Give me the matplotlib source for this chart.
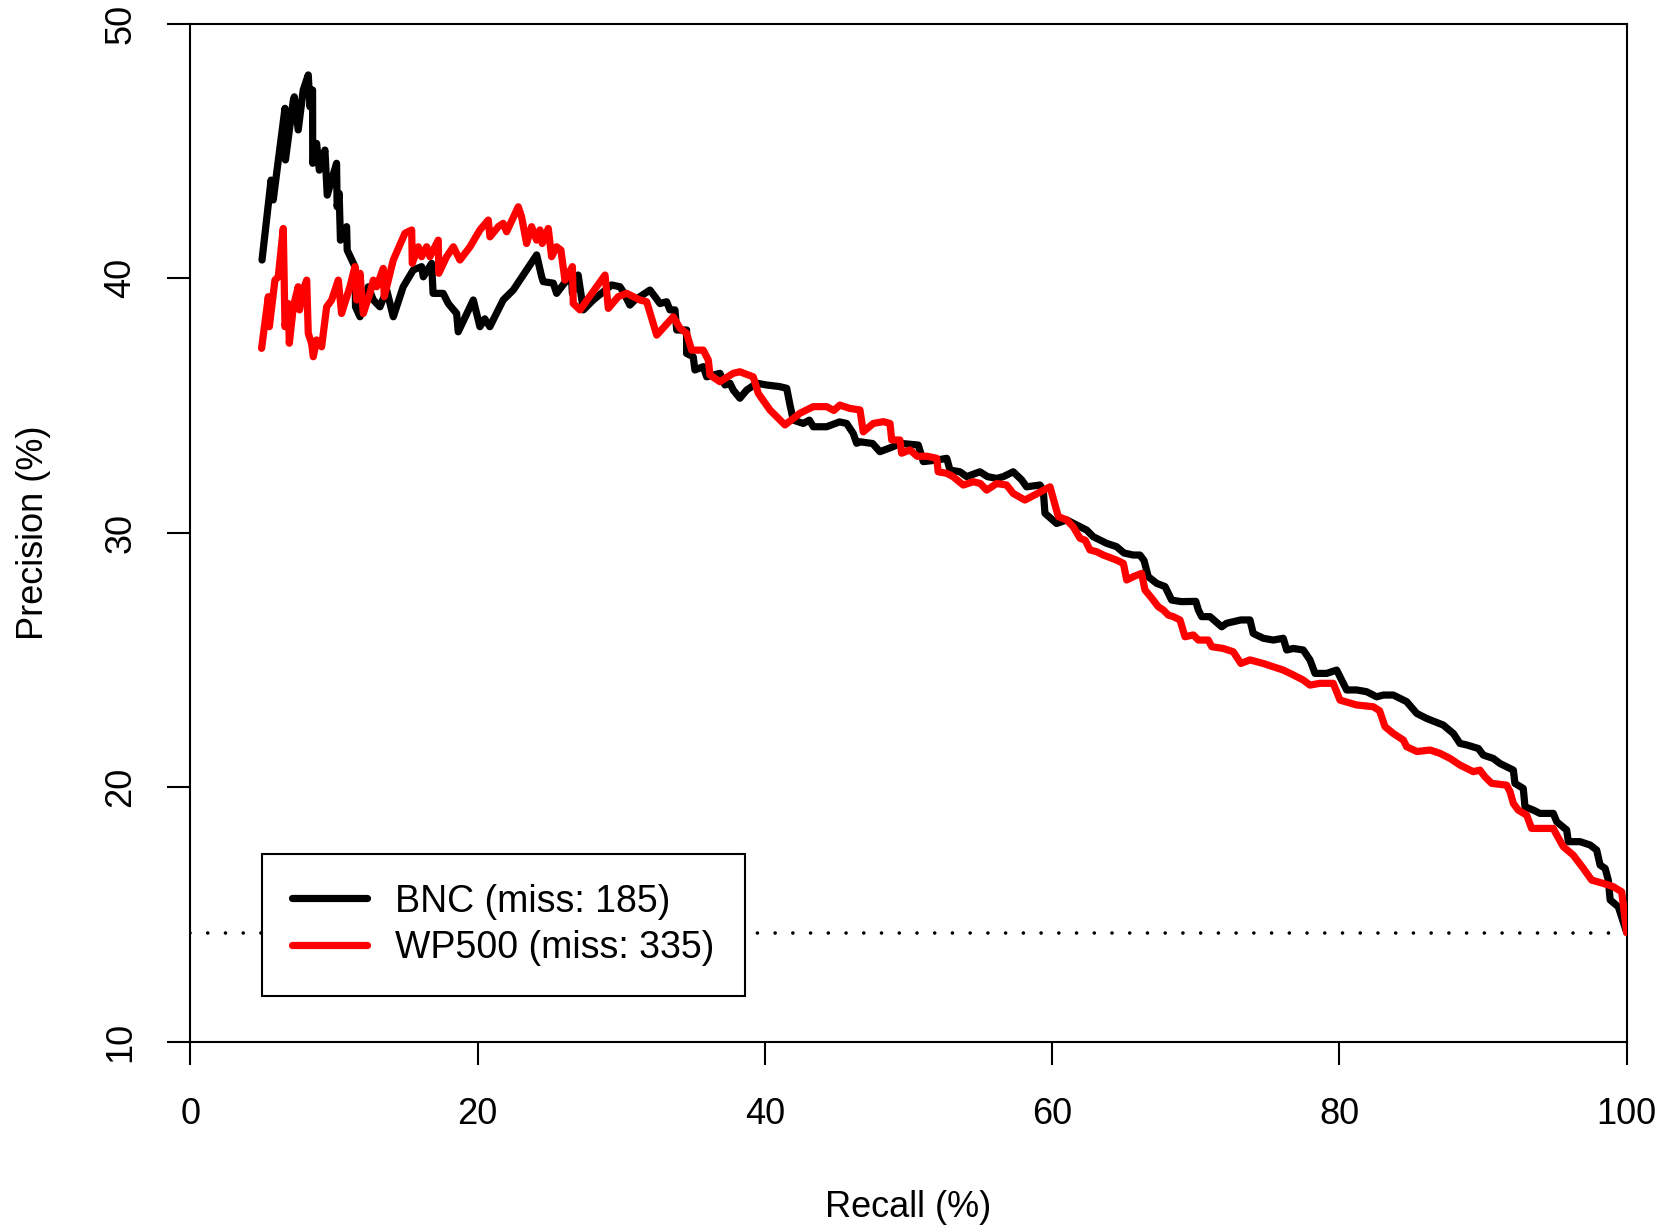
import matplotlib
matplotlib.use("Agg")
import matplotlib.pyplot as plt

# precision / recall curves
bnc_recall = [4.99, 5.62, 5.77, 6.59, 6.62, 7.17, 7.24, 7.51, 7.86, 8.21, 8.33, 8.51, 8.52, 8.79,
              8.98, 9.37, 9.53, 10.18, 10.22, 10.36, 10.45, 10.88, 10.92, 11.46, 11.50, 11.81,
              12.39, 12.74, 13.20, 13.67, 14.13, 14.82, 15.52, 16.10, 16.22, 16.80, 16.90, 17.60,
              17.96, 18.54, 18.65, 19.70, 20.16, 20.50, 20.85, 21.78, 22.48, 23.41, 24.11, 24.46,
              24.57, 25.27, 25.50, 26.20, 26.55, 26.60, 27.00, 27.36, 28.05, 28.75, 29.33, 29.91,
              30.14, 30.60, 30.95, 32.00, 32.70, 33.16, 33.39, 33.74, 33.86, 34.55, 34.55, 35.01,
              35.13, 35.71, 35.95, 36.87, 37.22, 37.57, 37.80, 38.26, 38.73, 39.43, 40.12, 41.00,
              41.52, 41.75, 41.98, 42.67, 43.10, 43.37, 44.30, 45.20, 45.69, 46.15, 46.39, 46.62,
              47.50, 48.01, 48.94, 49.40, 50.68, 51.03, 51.96, 52.66, 52.89, 53.58, 54.05, 54.97,
              55.50, 56.14, 56.60, 57.29, 57.88, 58.22, 59.15, 59.38, 59.50, 60.31, 61.01, 61.94,
              62.40, 62.86, 63.79, 64.48, 65.00, 65.65, 66.11, 66.40, 66.69, 67.27, 67.86, 68.32,
              68.99, 70.00, 70.18, 70.41, 70.99, 71.80, 72.15, 73.14, 73.77, 74.00, 74.70, 75.40,
              76.09, 76.33, 76.79, 77.48, 77.95, 78.30, 79.11, 79.81, 80.04, 80.50, 81.20, 81.90,
              82.59, 83.06, 83.75, 84.68, 85.38, 86.07, 87.23, 87.93, 88.39, 88.86, 89.67, 90.02,
              90.71, 91.18, 92.11, 92.22, 92.80, 92.92, 93.50, 93.96, 94.89, 95.13, 95.82, 95.94,
              96.75, 97.45, 97.91, 98.15, 98.50, 98.72, 98.85, 99.42, 100.0]
bnc_precision = [40.71, 43.85, 43.07, 46.67, 44.64, 46.99, 47.12, 45.82, 47.39, 47.98, 46.73, 47.39,
                 44.51, 45.29, 44.24, 45.03, 43.26, 44.51, 42.80, 43.33, 41.49, 42.02, 41.10, 40.45,
                 38.87, 38.48, 39.66, 39.14, 38.87, 39.53, 38.48, 39.66, 40.32, 40.45, 40.05, 40.58,
                 39.40, 39.40, 39.00, 38.61, 37.89, 39.14, 38.09, 38.40, 38.09, 39.14, 39.53, 40.32,
                 40.91, 40.05, 39.86, 39.80, 39.40, 39.92, 39.86, 39.40, 40.12, 38.75, 39.14, 39.46,
                 39.73, 39.66, 39.46, 38.94, 39.14, 39.53, 39.00, 39.07, 38.75, 38.75, 37.96, 37.96,
                 37.04, 36.91, 36.39, 36.52, 36.12, 36.26, 35.80, 35.87, 35.60, 35.28, 35.60, 35.87,
                 35.80, 35.74, 35.67, 35.01, 34.42, 34.29, 34.42, 34.16, 34.16, 34.35, 34.29, 33.90,
                 33.51, 33.57, 33.50, 33.18, 33.38, 33.51, 33.44, 32.79, 32.85, 32.92, 32.46, 32.39,
                 32.20, 32.39, 32.20, 32.13, 32.20, 32.39, 32.07, 31.80, 31.87, 31.67, 30.76, 30.36,
                 30.50, 30.23, 30.10, 29.84, 29.58, 29.45, 29.20, 29.12, 29.12, 28.90, 28.27, 28.01,
                 27.88, 27.35, 27.29, 27.30, 26.96, 26.70, 26.70, 26.30, 26.44, 26.57, 26.57, 26.04,
                 25.85, 25.78, 25.85, 25.39, 25.45, 25.39, 25.00, 24.47, 24.47, 24.60, 24.34, 23.82,
                 23.82, 23.75, 23.55, 23.62, 23.62, 23.36, 22.90, 22.70, 22.44, 22.11, 21.72, 21.66,
                 21.52, 21.26, 21.13, 20.93, 20.67, 20.15, 19.95, 19.23, 19.10, 18.97, 18.97, 18.64,
                 18.32, 17.86, 17.86, 17.73, 17.53, 16.94, 16.81, 16.35, 15.57, 15.30, 14.29]

wp_recall = [4.96, 5.43, 5.50, 5.89, 6.12, 6.47, 6.59, 6.82, 6.89, 7.17, 7.51, 7.60, 7.86, 8.10,
             8.21, 8.44, 8.56, 8.79, 9.14, 9.49, 9.84, 10.30, 10.53, 11.11, 11.46, 11.58, 11.81,
             12.04, 12.50, 12.74, 12.97, 13.43, 13.50, 14.13, 14.94, 15.41, 15.45, 15.87, 16.10,
             16.45, 16.68, 17.26, 17.30, 17.84, 18.31, 18.77, 19.47, 20.16, 20.74, 20.86, 21.44,
             21.78, 22.02, 22.83, 23.06, 23.41, 23.76, 24.11, 24.34, 24.50, 24.92, 25.15, 25.50,
             25.80, 26.08, 26.60, 26.66, 27.13, 28.87, 29.10, 29.79, 30.38, 31.30, 31.77, 32.47,
             33.62, 34.09, 34.55, 34.90, 35.71, 36.06, 36.18, 36.87, 37.80, 38.26, 39.19, 39.54,
             40.35, 41.40, 42.44, 43.37, 44.30, 44.80, 45.22, 45.92, 46.62, 46.85, 47.55, 48.25,
             48.71, 48.83, 49.40, 49.52, 50.10, 50.60, 51.30, 51.96, 52.07, 52.66, 53.10, 53.81,
             54.51, 55.00, 55.44, 56.14, 56.83, 57.29, 58.10, 59.85, 60.43, 61.01, 61.47, 61.94,
             62.30, 62.63, 63.10, 63.56, 64.49, 64.96, 65.19, 65.65, 66.23, 66.46, 66.90, 67.39,
             67.74, 68.09, 68.43, 68.90, 69.25, 69.83, 70.18, 70.87, 71.11, 71.91, 72.61, 73.14,
             73.77, 74.70, 75.40, 76.09, 76.79, 77.48, 77.95, 78.64, 79.57, 80.04, 81.20, 82.36,
             82.80, 83.17, 83.75, 84.45, 84.68, 85.40, 86.31, 87.00, 87.70, 88.39, 89.32, 89.78,
             90.13, 90.60, 91.64, 91.88, 92.11, 92.45, 93.04, 93.38, 94.19, 94.89, 95.13, 95.59,
             96.28, 96.98, 97.56, 98.37, 99.07, 99.65, 100.0]
wp_precision = [37.24, 39.27, 38.09, 39.92, 40.05, 41.95, 38.09, 39.00, 37.44, 38.87, 39.66, 38.75,
                39.53, 39.92, 37.83, 37.44, 36.91, 37.57, 37.30, 38.87, 39.14, 39.92, 38.61, 39.66,
                40.45, 39.14, 40.19, 38.61, 39.40, 39.92, 39.66, 40.38, 39.27, 40.71, 41.76, 41.89,
                40.58, 41.23, 40.84, 41.23, 40.84, 41.49, 40.19, 40.84, 41.23, 40.71, 41.23, 41.89,
                42.28, 41.62, 42.02, 42.15, 41.82, 42.80, 42.41, 41.36, 42.02, 41.49, 41.89, 41.36,
                41.95, 40.84, 41.23, 41.10, 39.92, 40.45, 39.00, 38.75, 40.12, 38.81, 39.27, 39.40,
                39.14, 39.07, 37.76, 38.48, 38.03, 37.83, 37.17, 37.17, 36.78, 36.19, 35.93, 36.26,
                36.32, 36.12, 35.47, 34.82, 34.23, 34.69, 34.95, 34.95, 34.80, 35.01, 34.88, 34.82,
                33.96, 34.29, 34.36, 34.29, 33.64, 33.64, 33.12, 33.25, 33.00, 33.00, 32.92, 32.39,
                32.33, 32.20, 31.87, 32.00, 31.93, 31.67, 31.93, 31.87, 31.54, 31.28, 31.80, 30.63,
                30.50, 30.23, 29.78, 29.70, 29.32, 29.25, 29.12, 28.92, 28.79, 28.14, 28.27, 28.40,
                27.75, 27.45, 27.09, 26.96, 26.76, 26.70, 26.57, 25.91, 25.98, 25.78, 25.78, 25.52,
                25.45, 25.32, 24.86, 25.00, 24.86, 24.73, 24.60, 24.41, 24.21, 24.01, 24.08, 24.08,
                23.42, 23.23, 23.16, 23.00, 22.38, 22.11, 21.85, 21.59, 21.40, 21.46, 21.33, 21.13,
                20.87, 20.61, 20.67, 20.41, 20.15, 20.08, 19.82, 19.36, 19.10, 18.90, 18.38, 18.38,
                18.38, 18.12, 17.66, 17.33, 16.81, 16.35, 16.22, 16.09, 15.89, 14.29]

baseline = 100.0 / 7  # random-guess precision
labels = ["BNC (miss: 185)", "WP500 (miss: 335)"]

plt.rcParams['font.family'] = ['Liberation Sans', 'DejaVu Sans']
plt.rcParams['font.size'] = 26

fig = plt.figure(figsize=(16.77, 12.26), dpi=100)
ax = fig.add_axes([0.1135, 0.1503, 0.8565, 0.8305])

ax.axhline(baseline, color='black', lw=2.6, linestyle=(0, (0.01, 4.9)),
           dash_capstyle='round', zorder=1)
ax.plot(bnc_recall, bnc_precision, color='black', lw=5.2, label=labels[0],
        solid_joinstyle='round', solid_capstyle='round', zorder=2)
ax.plot(wp_recall, wp_precision, color='#ff0000', lw=5.2, label=labels[1],
        solid_joinstyle='round', solid_capstyle='round', zorder=3)

ax.set_xlim(0, 100)
ax.set_ylim(10, 50)
ax.set_xticks([0, 20, 40, 60, 80, 100])
ax.set_yticks([10, 20, 30, 40, 50])
for s in ax.spines.values():
    s.set_linewidth(1.5)
ax.tick_params(axis='both', length=16.5, width=1.5, direction='out', labelsize=26)
ax.tick_params(axis='x', pad=23)
ax.tick_params(axis='y', pad=21, labelrotation=90)
for t in ax.get_yticklabels():
    t.set_va('center')

ax.set_xlabel("Recall (%)", fontsize=26)
ax.set_ylabel("Precision (%)", fontsize=26)
ax.xaxis.set_label_coords(0.5, -0.146)
ax.yaxis.set_label_coords(-0.097, 0.5)

leg = ax.legend(loc='upper left', bbox_to_anchor=(5, 17.39), bbox_transform=ax.transData,
                borderaxespad=0, fancybox=False, framealpha=1, edgecolor='black',
                fontsize=27, handlelength=2.0, handletextpad=0.75, borderpad=0.8,
                labelspacing=0.28)
leg.get_frame().set_linewidth(1.5)

fig.savefig("out.png", dpi=100)
